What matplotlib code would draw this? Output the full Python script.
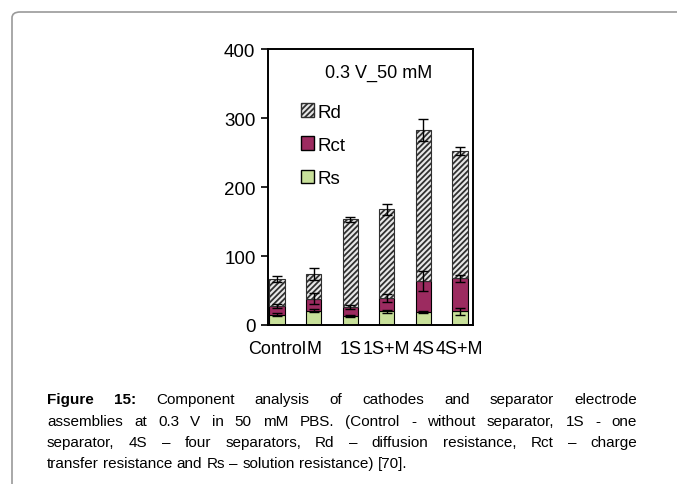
import matplotlib.pyplot as plt
import numpy as np
from matplotlib.patches import FancyBboxPatch, Patch

categories = ['Control', 'M', '1S', '1S+M', '4S', '4S+M']
rs = [15, 21, 13, 20, 19, 20]
rct = [13, 17, 13, 19, 45, 48]
rd = [39, 36, 127, 129, 219, 184]
rs_err = [2, 2, 2, 2, 2, 5]
rct_err = [3, 8, 3, 6, 14, 5]
rd_err = [4, 9, 4, 8, 16, 6]

caption_lines = [
    ['Figure', '15:', 'Component', 'analysis', 'of', 'cathodes', 'and', 'separator', 'electrode'],
    ['assemblies', 'at', '0.3', 'V', 'in', '50', 'mM', 'PBS.', '(Control', '-', 'without', 'separator,', '1S', '-', 'one'],
    ['separator,', '4S', '–', 'four', 'separators,', 'Rd', '–', 'diffusion', 'resistance,', 'Rct', '–', 'charge'],
    ['transfer', 'resistance', 'and', 'Rs', '–', 'solution', 'resistance)', '[70].'],
]

plt.rcParams['font.family'] = ['Liberation Sans', 'DejaVu Sans']
plt.rcParams['hatch.linewidth'] = 1.3

W, H = 677, 485
fig = plt.figure(figsize=(W / 100, H / 100), dpi=100)

# frame round the figure
frame = FancyBboxPatch((12 / W, -0.2), 1.2, 1.2 + (H - 13) / H - 1,
                       boxstyle='round,pad=0,rounding_size=0.012',
                       transform=fig.transFigure, facecolor='none',
                       edgecolor='#9a9a9a', linewidth=1.2)
fig.patches.append(frame)

ax = fig.add_axes([268 / W, (H - 326) / H, 205 / W, 276 / H])
x = np.arange(len(categories))
w = 0.42
rs = np.array(rs); rct = np.array(rct); rd = np.array(rd)
ek = dict(ecolor='black', elinewidth=1, capsize=3.5, capthick=1)

ax.bar(x, rs, w, color='#c8e09a', edgecolor='black', linewidth=0.8,
       yerr=rs_err, error_kw=ek, zorder=2)
ax.bar(x, rct, w, bottom=rs, color='#9c2b60', edgecolor='black', linewidth=0.8,
       yerr=rct_err, error_kw=ek, zorder=2)
ax.bar(x, rd, w, bottom=rs + rct, color='#e8e8e8', edgecolor='#303030', hatch='//////',
       linewidth=0.8, yerr=rd_err, error_kw=ek, zorder=2)

ax.set_xlim(-0.25, 5.36)
ax.set_ylim(0, 400)
ax.set_yticks([0, 100, 200, 300, 400])
ax.set_xticks(x)
ax.set_xticklabels(categories, fontsize=13)
ax.tick_params(axis='x', length=0, pad=11)
ax.tick_params(axis='y', length=5, width=1.2, labelsize=13.5, pad=4)
for s in ax.spines.values():
    s.set_linewidth(1.4)

ax.text(0.54, 0.915, '0.3 V_50 mM', transform=ax.transAxes, ha='center', va='center', fontsize=13)

handles = [Patch(facecolor='#e8e8e8', edgecolor='#303030', hatch='//////', label='Rd'),
           Patch(facecolor='#9c2b60', edgecolor='black', label='Rct'),
           Patch(facecolor='#c8e09a', edgecolor='black', label='Rs')]
ax.legend(handles=handles, loc='upper left', bbox_to_anchor=(0.125, 0.83), frameon=False,
          fontsize=13.5, handlelength=0.7, handleheight=0.7, handletextpad=0.15,
          labelspacing=0.85, borderaxespad=0)

# justified caption
renderer = fig.canvas.get_renderer()
fs = 11
x0, x1 = 47, 637
ys = [400, 422, 443, 464]
for i, words in enumerate(caption_lines):
    texts = []
    for j, wd in enumerate(words):
        bold = i == 0 and j < 2
        t = fig.text(0, 1 - ys[i] / H, wd, fontsize=fs, va='center', ha='left',
                     fontweight='bold' if bold else 'normal')
        texts.append(t)
    widths = [t.get_window_extent(renderer).width for t in texts]
    if i < len(caption_lines) - 1:
        gap = (x1 - x0 - sum(widths)) / (len(words) - 1)
    else:
        gap = fs * 1.39 * 0.28
    pos = x0
    for t, wdt in zip(texts, widths):
        t.set_x(pos / W)
        pos += wdt + gap

fig.savefig('out.png', dpi=100)
